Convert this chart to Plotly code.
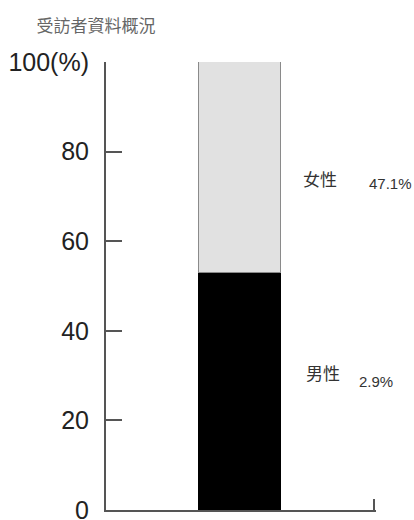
import plotly.graph_objects as go

# Data
categories = ["受訪者"]
male_values = [52.9]
female_values = [47.1]
y_tick_values = [0, 20, 40, 60, 80, 100]
y_tick_labels = ["0", "20", "40", "60", "80", "100(%)"]
series_names = ["男性", "女性"]
value_texts = ["2.9%", "47.1%"]  # as printed in the reference

# label placement (paper coordinates relative to plot area)
name_x = [0.804, 0.793]
name_y = [0.306, 0.739]
value_x = [1.0, 1.052]
value_y = [0.286, 0.728]

X_MIN, X_MAX = -1.64, 1.665

FIG_W, FIG_H = 414, 520

fig = go.Figure()
fig.add_trace(go.Bar(
    x=[0], y=male_values, name=series_names[0], width=1,
    marker=dict(color="#000000", line=dict(color="#000000", width=1)),
    hoverinfo="y",
))
fig.add_trace(go.Bar(
    x=[0], y=female_values, name=series_names[1], width=1,
    marker=dict(color="#e1e1e1", line=dict(color="#8a8a8a", width=1.5)),
    hoverinfo="y",
))

cjk = "Noto Sans CJK TC, Noto Sans CJK SC, sans-serif"
for i in range(2):
    fig.add_annotation(x=name_x[i], y=name_y[i], xref="paper", yref="paper",
                       xanchor="center", yanchor="middle",
                       text=series_names[i], showarrow=False,
                       font=dict(family=cjk, size=17, color="#333333"))
    fig.add_annotation(x=value_x[i], y=value_y[i], xref="paper", yref="paper",
                       xanchor="center", yanchor="middle",
                       text=value_texts[i], showarrow=False,
                       font=dict(family="Liberation Sans, Arial, sans-serif", size=15, color="#333333"))

fig.update_layout(
    width=FIG_W, height=FIG_H,
    margin=dict(l=106, r=38, t=62, b=10, autoexpand=False),
    paper_bgcolor="#ffffff", plot_bgcolor="#ffffff",
    barmode="stack", bargap=0,
    showlegend=False,
    title=dict(text="受訪者資料概況", x=96 / FIG_W, xanchor="center",
               y=1 - 26 / FIG_H, yanchor="middle", yref="container",
               font=dict(family=cjk, size=17, color="#666666")),
    xaxis=dict(range=[X_MIN, X_MAX], showline=True, linecolor="#555555", linewidth=2,
               tickvals=[X_MAX - 0.02], ticks="inside", ticklen=11, tickwidth=2,
               tickcolor="#555555", showticklabels=False, showgrid=False,
               zeroline=False, fixedrange=True, automargin=False),
    yaxis=dict(range=[0, 100], showline=True, linecolor="#555555", linewidth=2,
               tickvals=y_tick_values, ticktext=y_tick_labels,
               ticks="inside", ticklen=16, tickwidth=2, tickcolor="#555555",
               ticklabelstandoff=10, automargin=False, ticklabeloverflow="allow",
               tickfont=dict(family="Liberation Sans, Arial, sans-serif", size=25, color="#222222"),
               showgrid=False, zeroline=False, fixedrange=True),
)

fig.write_html("out.html",
               config={"displayModeBar": False},
               post_script="document.body.style.margin='0';document.body.style.overflow='hidden';")
